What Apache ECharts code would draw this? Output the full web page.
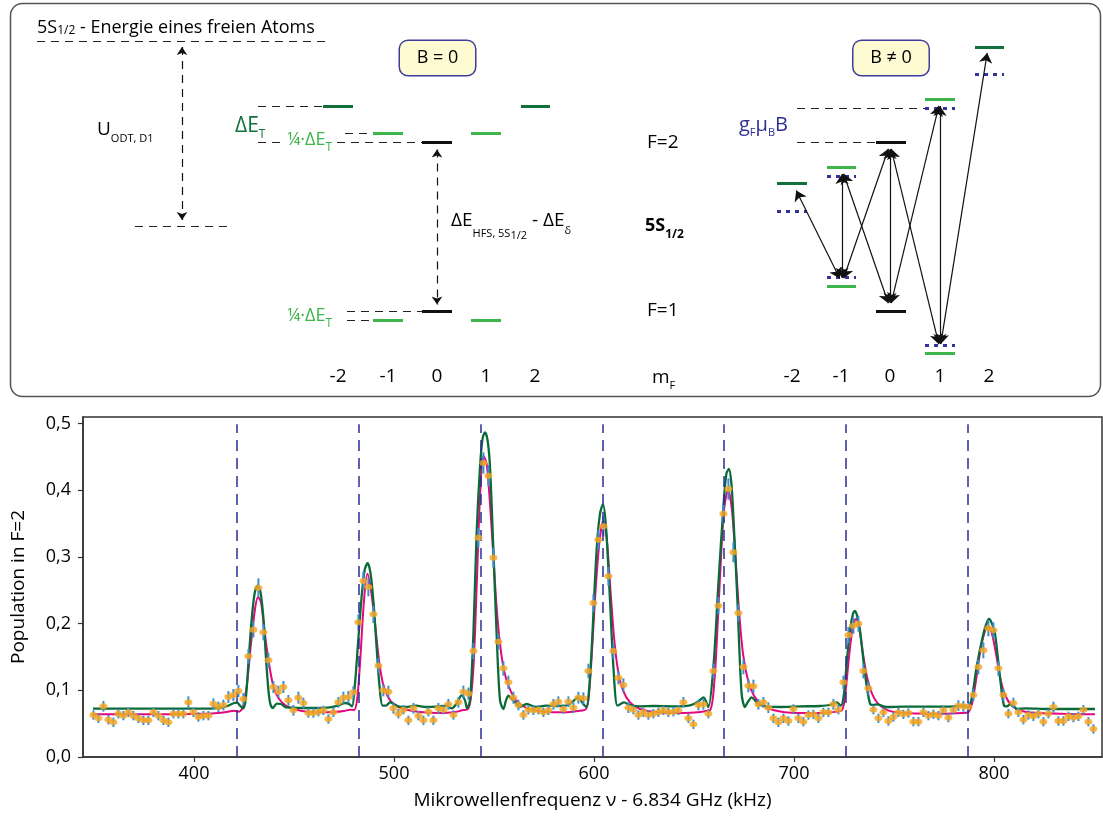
<!DOCTYPE html>
<html><head><meta charset="utf-8">
<script src="https://cdn.jsdelivr.net/npm/echarts/dist/echarts.min.js"></script>
<style>html,body{margin:0;padding:0;background:#fff}#c{width:1103px;height:821px}</style>
</head><body><div id="c"></div>
<script>
// ---------- spectrum: [frequency kHz, population in F=2, error] ----------
const measured = [
[349.7,0.063,0.007],[352.2,0.058,0.007],[354.7,0.076,0.008],[357.2,0.056,0.007],[359.7,0.052,0.007],
[362.2,0.065,0.007],[364.7,0.062,0.007],[367.2,0.067,0.007],[369.7,0.062,0.007],[372.2,0.058,0.007],
[374.7,0.055,0.007],[377.2,0.055,0.007],[379.7,0.067,0.007],[382.2,0.062,0.007],[384.7,0.055,0.007],
[387.2,0.052,0.007],[389.7,0.065,0.007],[392.2,0.065,0.007],[394.7,0.065,0.007],[397.2,0.082,0.009],
[399.7,0.067,0.007],[402.2,0.060,0.007],[404.7,0.062,0.007],[407.2,0.062,0.007],[409.7,0.080,0.008],
[412.2,0.075,0.008],[414.7,0.078,0.008],[417.2,0.090,0.009],[419.7,0.093,0.009],[422.2,0.099,0.009],
[424.7,0.087,0.009],[427.2,0.151,0.011],[429.7,0.191,0.012],[432.2,0.254,0.014],[434.7,0.187,0.012],
[437.2,0.145,0.011],[439.7,0.105,0.009],[442.2,0.098,0.009],[444.7,0.105,0.009],[447.2,0.085,0.008],
[449.7,0.070,0.008],[452.2,0.089,0.009],[454.7,0.081,0.008],[457.2,0.066,0.007],[459.7,0.066,0.007],
[462.2,0.068,0.007],[464.7,0.070,0.007],[467.2,0.057,0.007],[469.7,0.067,0.007],[472.2,0.082,0.008],
[474.7,0.089,0.009],[477.2,0.090,0.009],[479.7,0.097,0.009],[482.2,0.202,0.012],[484.7,0.264,0.014],
[487.2,0.255,0.014],[489.7,0.214,0.013],[492.2,0.137,0.011],[494.7,0.100,0.009],[497.2,0.098,0.009],
[499.7,0.073,0.008],[502.2,0.065,0.007],[504.7,0.071,0.007],[507.2,0.055,0.007],[509.7,0.073,0.008],
[512.2,0.062,0.007],[514.7,0.055,0.007],[517.2,0.068,0.007],[519.7,0.055,0.007],[522.2,0.073,0.008],
[524.7,0.071,0.007],[527.2,0.079,0.008],[529.7,0.063,0.007],[532.2,0.082,0.008],[534.7,0.098,0.009],
[537.2,0.095,0.009],[539.7,0.159,0.012],[542.2,0.329,0.015],[544.7,0.441,0.016],[547.2,0.422,0.016],
[549.7,0.299,0.015],[552.2,0.173,0.012],[554.7,0.133,0.011],[557.2,0.112,0.010],[559.7,0.089,0.009],
[562.2,0.078,0.008],[564.7,0.063,0.007],[567.2,0.071,0.007],[569.7,0.070,0.007],[572.2,0.071,0.007],
[574.7,0.067,0.007],[577.2,0.070,0.007],[579.7,0.079,0.008],[582.2,0.083,0.008],[584.7,0.072,0.007],
[587.2,0.083,0.008],[589.7,0.074,0.008],[592.2,0.089,0.009],[594.7,0.088,0.009],[597.2,0.129,0.011],
[599.7,0.231,0.013],[602.2,0.326,0.015],[604.7,0.346,0.015],[607.2,0.271,0.014],[609.7,0.159,0.012],
[612.2,0.119,0.010],[614.7,0.108,0.010],[617.2,0.074,0.008],[619.7,0.071,0.007],[622.2,0.063,0.007],
[624.7,0.067,0.007],[627.2,0.063,0.007],[629.7,0.065,0.007],[632.2,0.067,0.007],[634.7,0.070,0.007],
[637.2,0.067,0.007],[639.7,0.068,0.007],[642.2,0.070,0.007],[644.7,0.082,0.008],[647.2,0.058,0.007],
[649.7,0.049,0.007],[652.2,0.078,0.008],[654.7,0.079,0.008],[657.2,0.065,0.007],[659.7,0.129,0.011],
[662.2,0.227,0.013],[664.7,0.365,0.015],[667.2,0.402,0.016],[669.7,0.307,0.015],[672.2,0.216,0.013],
[674.7,0.135,0.011],[677.2,0.107,0.010],[679.7,0.106,0.010],[682.2,0.079,0.008],[684.7,0.082,0.008],
[687.2,0.074,0.008],[689.7,0.058,0.007],[692.2,0.052,0.007],[694.7,0.058,0.007],[697.2,0.054,0.007],
[699.7,0.072,0.007],[702.2,0.058,0.007],[704.7,0.053,0.007],[707.2,0.063,0.007],[709.7,0.064,0.007],
[712.2,0.058,0.007],[714.7,0.067,0.007],[717.2,0.067,0.007],[719.7,0.079,0.008],[722.2,0.071,0.007],
[724.7,0.112,0.010],[727.2,0.183,0.012],[729.7,0.197,0.012],[732.2,0.200,0.012],[734.7,0.129,0.011],
[737.2,0.103,0.010],[739.7,0.071,0.007],[742.2,0.058,0.007],[744.7,0.067,0.007],[747.2,0.054,0.007],
[749.7,0.060,0.007],[752.2,0.067,0.007],[754.7,0.064,0.007],[757.2,0.066,0.007],[759.7,0.053,0.007],
[762.2,0.053,0.007],[764.7,0.067,0.007],[767.2,0.062,0.007],[769.7,0.064,0.007],[772.2,0.062,0.007],
[774.7,0.070,0.007],[777.2,0.059,0.007],[779.7,0.071,0.007],[782.2,0.077,0.008],[784.7,0.076,0.008],
[787.2,0.075,0.008],[789.7,0.093,0.009],[792.2,0.135,0.011],[794.7,0.160,0.012],[797.2,0.193,0.012],
[799.7,0.190,0.012],[802.2,0.133,0.011],[804.7,0.093,0.009],[807.2,0.065,0.007],[809.7,0.081,0.008],
[812.2,0.067,0.007],[814.7,0.056,0.007],[817.2,0.063,0.007],[819.7,0.061,0.007],[822.2,0.065,0.007],
[824.7,0.053,0.007],[827.2,0.065,0.007],[829.7,0.075,0.008],[832.2,0.054,0.007],[834.7,0.054,0.007],
[837.2,0.061,0.007],[839.7,0.059,0.007],[842.2,0.061,0.007],[844.7,0.071,0.007],[847.2,0.053,0.007],
[849.7,0.042,0.007]
];
// magenta fit curve [kHz, population]
const fitMagenta = [
[349.5,0.064],[380,0.064],[405,0.065],[412,0.066],[417,0.068],[420,0.0695],[422.5,0.068],[424.5,0.075],
[426.5,0.11],[428.5,0.17],[430.5,0.222],[432,0.24],[433.5,0.232],[435,0.195],[437,0.15],[439,0.115],
[441,0.095],[444,0.082],[448,0.074],[454,0.069],[462,0.067],[470,0.0675],[475,0.069],[478,0.071],
[480,0.0705],[481.5,0.085],[483,0.14],[485,0.235],[486.7,0.275],[488.5,0.25],[490.5,0.2],[492.5,0.145],
[494.5,0.11],[497,0.09],[500,0.079],[505,0.072],[512,0.068],[522,0.066],[530,0.067],[534,0.07],
[537,0.072],[538.5,0.09],[540,0.15],[541.5,0.27],[543,0.39],[544.7,0.452],[546.3,0.44],[548,0.38],
[549.7,0.3],[551.3,0.225],[553,0.17],[555,0.13],[557.5,0.105],[561,0.085],[566,0.074],[575,0.068],
[585,0.067],[592,0.069],[596,0.072],[597.5,0.095],[599,0.16],[601,0.26],[603,0.33],[604.7,0.355],
[606.3,0.33],[608,0.26],[610,0.18],[612,0.13],[614.5,0.1],[618,0.082],[623,0.072],[632,0.067],
[645,0.066],[652,0.067],[656,0.069],[658,0.07],[659.5,0.09],[661,0.15],[663,0.27],[665,0.37],
[667,0.4],[668.8,0.375],[670.5,0.31],[672.5,0.22],[674.5,0.155],[677,0.115],[680,0.092],[684,0.078],
[690,0.07],[700,0.066],[715,0.066],[721,0.068],[724,0.07],[725.5,0.09],[727.5,0.15],[729.5,0.197],
[731,0.207],[732.5,0.195],[734.5,0.155],[736.5,0.12],[739,0.095],[742,0.08],[747,0.07],[755,0.066],
[775,0.065],[784,0.066],[787,0.067],[789,0.08],[791,0.115],[793.5,0.165],[796,0.193],[797.5,0.195],
[799,0.185],[801,0.155],[803,0.12],[805.5,0.093],[809,0.077],[814,0.069],[822,0.066],[850.5,0.064]
];
// dark green fit curve [kHz, population]
const fitGreen = [
[349.5,0.0725],[400,0.0725],[410,0.073],[415,0.075],[418,0.078],[420,0.081],[421.5,0.0815],[423,0.077],
[424.5,0.073],[425.8,0.085],[427.2,0.14],[428.8,0.205],[430.3,0.245],[431.8,0.257],[433.3,0.247],
[434.8,0.205],[436.3,0.135],[437.8,0.085],[439.3,0.0735],[441.5,0.08],[443.5,0.0795],[446,0.0745],
[450,0.074],[455,0.0735],[462,0.0735],[468,0.0745],[472,0.077],[475.5,0.081],[477.5,0.0795],[479,0.076],
[480.5,0.11],[482,0.17],[483.8,0.24],[485.3,0.28],[486.8,0.291],[488.3,0.275],[489.8,0.23],[491.3,0.165],
[492.8,0.105],[494.3,0.077],[496,0.077],[498,0.082],[500,0.0795],[502,0.076],[506,0.075],[511,0.077],
[516,0.075],[521,0.0755],[526,0.077],[528.8,0.073],[531.3,0.08],[533.8,0.0925],[535.5,0.085],[536.5,0.073],
[538,0.085],[539.7,0.185],[541.3,0.335],[543,0.435],[544.3,0.478],[545.5,0.487],[546.8,0.475],[548,0.435],
[549.7,0.31],[551.3,0.185],[553,0.085],[554.7,0.072],[556,0.085],[557.2,0.092],[558.5,0.088],[560,0.084],
[563,0.075],[566.3,0.0795],[571,0.075],[576,0.077],[582,0.0765],[587,0.078],[590,0.085],[592,0.0895],
[594.5,0.08],[596.3,0.075],[597.5,0.1],[598.8,0.16],[601.3,0.31],[603,0.365],[604.5,0.379],[606,0.345],
[608,0.235],[609.7,0.135],[611.7,0.077],[613.5,0.08],[615,0.082],[618,0.078],[623,0.076],[630,0.0765],
[640,0.076],[648,0.0775],[652,0.083],[654.7,0.0895],[656.2,0.082],[657.2,0.075],[659.7,0.135],[662.2,0.26],
[664.7,0.375],[666.2,0.425],[667.5,0.432],[668.7,0.41],[669.7,0.36],[671.7,0.235],[673.8,0.095],[675.5,0.075],
[677,0.083],[678.8,0.0895],[680.5,0.085],[682.2,0.079],[686.3,0.076],[693,0.075],[703,0.076],[713,0.0765],
[718,0.078],[721.3,0.082],[723.5,0.077],[725,0.095],[726.3,0.14],[728,0.19],[729.5,0.215],[730.5,0.219],
[731.7,0.21],[733,0.19],[735.5,0.125],[738,0.08],[740,0.078],[741.3,0.079],[746.3,0.075],[755,0.0755],
[765,0.0755],[775,0.0755],[781,0.076],[784.7,0.077],[787,0.0745],[789,0.09],[791.3,0.135],[794.7,0.185],
[796.2,0.2],[797.5,0.207],[799,0.2],[800.5,0.185],[803,0.12],[805,0.077],[806.5,0.076],[808,0.079],
[810,0.076],[811.3,0.072],[816.3,0.073],[826.3,0.072],[850.5,0.072]
];
// expected resonance positions (kHz)
const resonanceLines = [421.5, 482.5, 543.5, 604.5, 665, 726, 787];
const xTickValues = [400, 500, 600, 700, 800];
const yTickLabels = ['0,0','0,1','0,2','0,3','0,4','0,5'];

// ---------- level scheme (diagram units) ----------
const zeroFieldLevels = [ // [xStart, xEnd, level, kind]
  [323,353,106,'deep'],[521,550,106,'deep'],
  [373,403,133,'shift'],[471,501,133,'shift'],[422,452,142.7,'bare'],
  [373,403,320,'shift'],[471,501,320,'shift'],[422,452,311,'bare']
];
const zeemanLevels = [
  [777,807,183,'deep'],[975,1004,47,'deep'],
  [827,856,167,'shift'],[925,955,99,'shift'],[876,906,142.7,'bare'],
  [827,856,286,'shift'],[925,955,353,'shift'],[876,906,311,'bare']
];
const zeemanOnlyLevels = [ [777,807,211],[827,856,176],[925,955,108],[975,1004,74],[827,856,277],[925,955,345] ];
const guideLines = [ [37,41,328,41],[135,226,230,226],[258,106,323,106],[345,133,373,133],
  [258,142.7,285,142.7],[337,142.7,422,142.7],[347,311,422,311],[347,320,373,320],
  [797,108,925,108],[797,142.7,876,142.7] ];
const energyGaps = [ [182,43,182,224],[437,145.5,437,308.5] ];
const transitions = [ [794,186,842,283],[842,169,842,283],[842,283,890,144],[842,169,890,308],
  [890,144,890,308],[890,308,940,101],[890,144,940,349],[940,101,940,349],[940,349,988,48] ];
const diagramTexts = [ // [x, y, text, styleKey]
  [37,28,'{n|5S}{s|1/2}{n| - Energie eines freien Atoms}','title'],
  [97,130,'{n|U}{s|ODT, D1}','pot'],
  [235,126,'{n|ΔE}{s|T}','deep'],
  [287,140,'{n|¼·ΔE}{s|T}','quarter'],
  [287,316,'{n|¼·ΔE}{s|T}','quarter'],
  [451,221,'{n|ΔE}{s|HFS, 5S}{t|1/2}{n| - ΔE}{d|δ}','hfs'],
  [647,142.5,'{n|F=2}','plain'],
  [645,226,'{n|5S}{s|1/2}','state'],
  [647,311,'{n|F=1}','plain'],
  [652,378,'{n|m}{s|F}','mf'],
  [739,125,'{n|g}{s|F}{n|μ}{s|B}{n|B}','zeeman']
];
const mLabels = [ [338,'-2'],[388,'-1'],[437,'0'],[486,'1'],[535,'2'],[792,'-2'],[841,'-1'],[890,'0'],[940,'1'],[989,'2'] ];
const mLabelRow = 377;
const fieldBoxes = [ [437.5,58,'B = 0'],[891,58,'B ≠ 0'] ];

// ---------- styles ----------
const FONT = '"Open Sans", "Liberation Sans", sans-serif';
const INK = '#000000';
const levelColors = { deep:'#12703c', shift:'#3db54a', bare:'#111111' };
const BLUE = '#2e3192';
const sub = (pad, size, color, bold) => ({fontSize:size||11, lineHeight:12, padding:[pad,0,0,0], color, fontFamily:FONT, fontWeight: bold?'bold':'normal', textBorderWidth:0});
const main = (size, color, bold) => ({fontSize:size, lineHeight:size+4, color, fontFamily:FONT, fontWeight: bold?'bold':'normal', textBorderWidth:0});
const textStyles = {
  title: {n:main(18,INK), s:{fontSize:12,lineHeight:14,padding:[5,0,0,0],color:INK,fontFamily:FONT,textBorderWidth:0}},
  pot: {n:main(19,INK), s:sub(18,11,INK)},
  deep: {n:main(21,'#12703c'), s:sub(18,12,'#12703c')},
  quarter: {n:main(18,'#3db54a'), s:sub(15,12,'#3db54a')},
  hfs: {n:main(19,INK), s:sub(26,11,INK), t:sub(30,11,INK), d:sub(20,11,INK)},
  plain: {n:main(19,INK)},
  state: {n:main(18,INK,true), s:sub(18,12,INK,true)},
  mf: {n:main(19,INK), s:sub(16,11,INK)},
  zeeman: {n:main(20,BLUE), s:sub(16,11,BLUE)}
};

function shorten(seg, d) {
  const [x1,y1,x2,y2] = seg;
  const L = Math.hypot(x2-x1, y2-y1), ux = (x2-x1)/L, uy = (y2-y1)/L;
  return [[x1+ux*d, y1+uy*d],[x2-ux*d, y2-uy*d]];
}

const chart = echarts.init(document.getElementById('c'));
const axisText = {fontSize:18, color:INK, fontFamily:FONT};
const labelBase = {show:true, position:[0,0], color:INK, fontFamily:FONT, textBorderWidth:0, textBorderColor:'transparent', opacity:1};

const option = {
  animation:false,
  backgroundColor:'#fff',
  textStyle:{fontFamily:FONT},
  graphic:[{type:'rect', shape:{x:10.5,y:3.5,width:1090,height:393,r:12}, style:{fill:'none',stroke:'#555',lineWidth:1.5}, silent:true, z:0}],
  grid:[
    {left:83, right:1, top:417, bottom:64, show:true, borderColor:'#333', borderWidth:1.5, outerBoundsMode:'none', containLabel:false},
    {left:0, top:0, width:1103, height:400, show:false, outerBoundsMode:'none', containLabel:false}
  ],
  xAxis:[
    {gridIndex:0, type:'value', min:344.5, max:854,
     name:'Mikrowellenfrequenz ν - 6.834 GHz (kHz)', nameLocation:'middle', nameGap:34,
     nameTextStyle:{fontSize:19, color:INK, fontFamily:FONT},
     axisLine:{lineStyle:{color:'#333',width:1.5}},
     axisTick:{length:5, lineStyle:{color:'#333',width:1.2}, customValues:xTickValues},
     axisLabel:Object.assign({margin:8, customValues:xTickValues}, axisText),
     splitLine:{show:false}},
    {gridIndex:1, type:'value', min:0, max:1103, show:false}
  ],
  yAxis:[
    {gridIndex:0, type:'value', min:0, max:0.51, interval:0.1,
     name:'Population in F=2', nameLocation:'middle', nameGap:55, nameRotate:90,
     nameTextStyle:{fontSize:19, color:INK, fontFamily:FONT},
     axisLine:{show:true, lineStyle:{color:'#333',width:1.5}}, axisTick:{show:true, length:5, lineStyle:{color:'#333',width:1.2}},
     axisLabel:Object.assign({margin:12, formatter:(v)=> yTickLabels[Math.round(v*10)] || ''}, axisText), splitLine:{show:false}},
    {gridIndex:1, type:'value', min:0, max:400, inverse:true, show:false}
  ],
  series:[
    // ----- spectrum -----
    {type:'line', name:'fit1', xAxisIndex:0, yAxisIndex:0, data:fitMagenta, showSymbol:false, smooth:0.3,
     lineStyle:{color:'#e4077f', width:2}, z:2, silent:true,
     markLine:{silent:true, symbol:'none', label:{show:false},
       lineStyle:{color:'#2d2d96', width:1.5, type:[11,7]},
       data: resonanceLines.map(v => [{coord:[v,0]},{coord:[v,0.499]}])}},
    {type:'line', name:'fit2', xAxisIndex:0, yAxisIndex:0, data:fitGreen, showSymbol:false, smooth:0.3,
     lineStyle:{color:'#0b6b38', width:2.3}, z:3, silent:true},
    {type:'custom', name:'err', xAxisIndex:0, yAxisIndex:0, silent:true, z:4,
     data: measured.map(d => [d[0], d[1]-d[2], d[1]+d[2]]),
     encode:{x:0, y:[1,2]},
     renderItem:(params, api) => {
       const lo = api.coord([api.value(0), api.value(1)]);
       const hi = api.coord([api.value(0), api.value(2)]);
       return {type:'line', shape:{x1:lo[0],y1:lo[1],x2:hi[0],y2:hi[1]}, style:{stroke:'#3b8fd0', lineWidth:2}};
     }},
    {type:'scatter', name:'data', xAxisIndex:0, yAxisIndex:0, silent:true, z:5,
     data: measured.map(d => [d[0], d[1]]), symbol:'circle', symbolSize:[8,6],
     itemStyle:{color:'#f9a51c'}},
    // ----- level scheme -----
    {type:'lines', coordinateSystem:'cartesian2d', xAxisIndex:1, yAxisIndex:1, silent:true, z:3,
     data: zeroFieldLevels.concat(zeemanLevels).map(l => ({coords:[[l[0],l[2]],[l[1],l[2]]], lineStyle:{color:levelColors[l[3]], width:3, opacity:1}})),
     lineStyle:{width:3}},
    {type:'lines', coordinateSystem:'cartesian2d', xAxisIndex:1, yAxisIndex:1, silent:true, z:3,
     data: zeemanOnlyLevels.map(l => ({coords:[[l[0],l[2]],[l[1],l[2]]]})),
     lineStyle:{color:'#33339a', width:3, type:[4,5], opacity:1}},
    {type:'lines', coordinateSystem:'cartesian2d', xAxisIndex:1, yAxisIndex:1, silent:true, z:2,
     data: guideLines.map(g => ({coords:[[g[0],g[1]],[g[2],g[3]]]})),
     lineStyle:{color:'#222', width:1, type:[8,6], opacity:1}},
    {type:'lines', coordinateSystem:'cartesian2d', xAxisIndex:1, yAxisIndex:1, silent:true, z:3,
     data: energyGaps.map(g => ({coords:shorten(g,4)})),
     symbol:['arrow','arrow'], symbolSize:8,
     lineStyle:{color:'#111', width:1.2, type:[8,6], opacity:1}},
    {type:'lines', coordinateSystem:'cartesian2d', xAxisIndex:1, yAxisIndex:1, silent:true, z:4,
     data: transitions.map(t => ({coords:shorten(t,5)})),
     symbol:['arrow','arrow'], symbolSize:10,
     lineStyle:{color:'#111', width:1.2, opacity:1}},
    {type:'scatter', xAxisIndex:1, yAxisIndex:1, silent:true, z:6, symbolSize:0,
     itemStyle:{color:'#000', opacity:0},
     data: diagramTexts.map(t => ({value:[t[0],t[1]],
       label:Object.assign({}, labelBase, {align:'left', verticalAlign:'middle', formatter:t[2],
              fontSize:19, rich:textStyles[t[3]]})}))},
    {type:'scatter', xAxisIndex:1, yAxisIndex:1, silent:true, z:6, symbolSize:0,
     itemStyle:{color:'#000', opacity:0},
     data: mLabels.map(m => ({value:[m[0], mLabelRow],
       label:Object.assign({}, labelBase, {align:'center', verticalAlign:'middle', formatter:m[1], fontSize:19})}))},
    {type:'scatter', xAxisIndex:1, yAxisIndex:1, silent:true, z:6, symbolSize:0,
     itemStyle:{color:'#000', opacity:0},
     data: fieldBoxes.map(b => ({value:[b[0],b[1]],
       label:Object.assign({}, labelBase, {align:'center', verticalAlign:'middle', formatter:b[2],
              fontSize:18, backgroundColor:'#fefad2', borderColor:'#3d3d9c',
              borderWidth:1.5, borderRadius:8, padding:[6,0,6,0], width:75, height:22, lineHeight:22})}))}
  ]
};
chart.setOption(option);
</script></body></html>
